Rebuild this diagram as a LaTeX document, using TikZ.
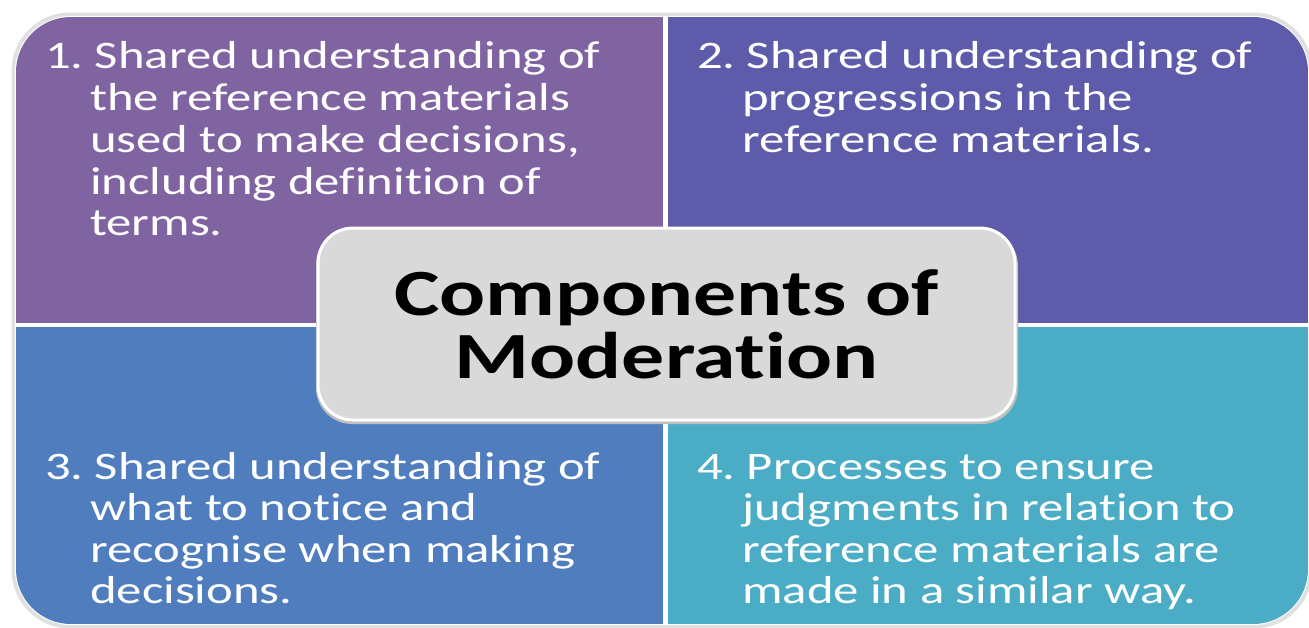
\documentclass[tikz,border=0pt]{standalone}
\usepackage{fontspec}
\setmainfont{Carlito}[FakeStretch=1.3, RawFeature={-liga;-dlig;-clig}]
\definecolor{qone}{HTML}{8064A2}
\definecolor{qtwo}{HTML}{5F5BAB}
\definecolor{qthree}{HTML}{4F7DBE}
\definecolor{qfour}{HTML}{4BACC6}
\definecolor{boxgray}{HTML}{D9D9D9}
\tikzset{
  bodytxt/.style={text=white, font=\fontsize{39}{42}\selectfont, anchor=base west, inner sep=0pt},
  titlebox/.style={fill=boxgray, draw=white, line width=3pt, rounded corners=35pt,
    minimum width=697pt, minimum height=192pt, align=center, text=black,
    font=\fontsize{66}{63}\selectfont\bfseries, inner sep=0pt}
}
\begin{document}
\begin{tikzpicture}[x=1pt,y=-1pt]
\useasboundingbox (0,0) rectangle (1309,627);
% outer glow
\draw[black!12, line width=5pt, rounded corners=56pt] (14,15) rectangle (1310,626);
\draw[white, line width=2pt, rounded corners=55pt] (16,17) rectangle (1308,624);
\begin{scope}
  \clip[rounded corners=55pt] (16,17) rectangle (1308,624);
  \fill[qone]   (16,17)   rectangle (663,323);
  \fill[qtwo]   (668,17)  rectangle (1308,323);
  \fill[qthree] (16,327)  rectangle (663,624);
  \fill[qfour]  (668,327) rectangle (1308,624);
\end{scope}
% quadrant 1
\node[bodytxt] (a1) at (45,68)  {1.\kern-4pt{} Shared understanding of};
\node[bodytxt] (a2) at (90,110) {the reference materials};
\node[bodytxt] (a3) at (90,152) {used to make decisions,};
\node[bodytxt] (a4) at (90,194) {including definition of};
\node[bodytxt] (a5) at (90,235) {terms.};
% quadrant 2
\node[bodytxt] (b1) at (697,68)  {2.\kern-4pt{} Shared understanding of};
\node[bodytxt] (b2) at (742,110) {progressions in the};
\node[bodytxt] (b3) at (742,152) {reference materials.};
% quadrant 3
\node[bodytxt] (c1) at (45,479) {3.\kern-4pt{} Shared understanding of};
\node[bodytxt] (c2) at (90,520) {what to notice and};
\node[bodytxt] (c3) at (90,562) {recognise when making};
\node[bodytxt] (c4) at (90,603) {decisions.};
% quadrant 4
\node[bodytxt] (d1) at (697,479) {4.\kern-4pt{} Processes to ensure};
\node[bodytxt] (d2) at (742,520) {judgments in relation to};
\node[bodytxt] (d3) at (742,562) {reference materials are};
\node[bodytxt] (d4) at (742,603) {made in a similar way.};
% centre
\fill[black!25, rounded corners=36pt] (316,230) rectangle (1018,424);
\node[titlebox] (title) at (666.5,324) {Components of\\Moderation};
\end{tikzpicture}
\end{document}
